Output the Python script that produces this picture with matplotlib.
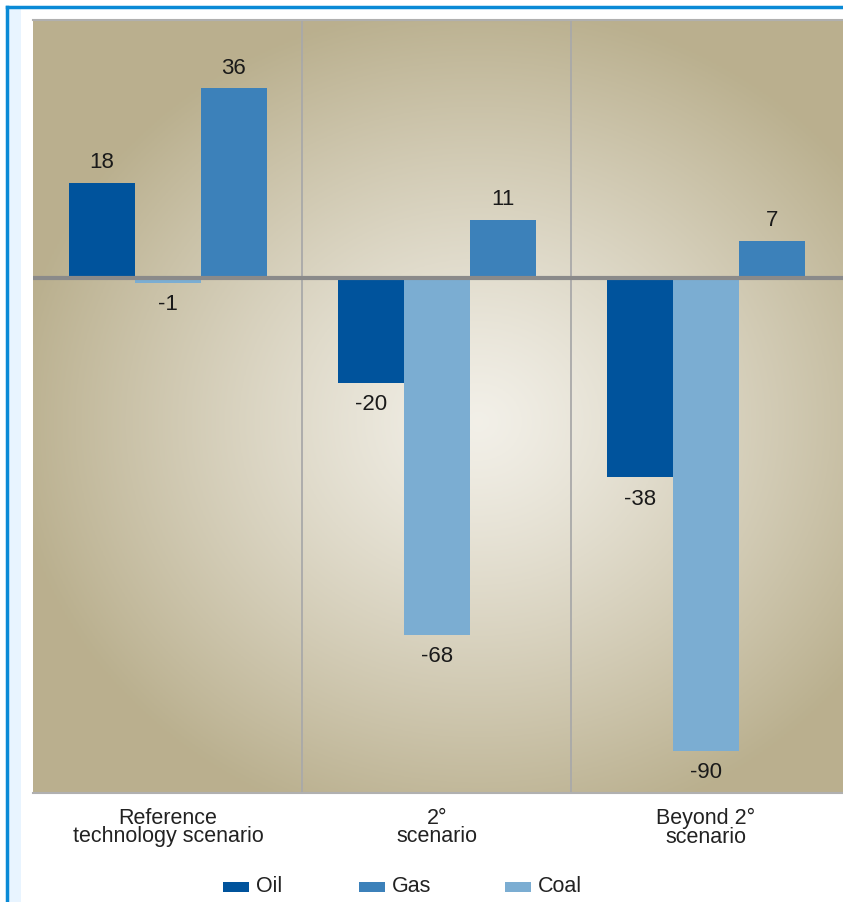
import numpy as np
import matplotlib
matplotlib.use('Agg')
from matplotlib import pyplot as plt
from matplotlib.patches import Rectangle

# data
scenarios = ['Reference\ntechnology scenario', '2°\nscenario', 'Beyond 2°\nscenario']
fuels = ['Oil', 'Gas', 'Coal']
oil = [18, -20, -38]
coal = [-1, -68, -90]
gas = [36, 11, 7]
colors = {'Oil': '#00539c', 'Gas': '#3c81ba', 'Coal': '#7badd2'}

plt.rcParams['font.family'] = ['Liberation Sans', 'DejaVu Sans']

fig = plt.figure(figsize=(8.43, 9.02), dpi=100)
W, H = 843.0, 902.0

# blue frame on the left and top
fig.patches.append(Rectangle((7 / W, 0), 14 / W, 1 - 7 / H, transform=fig.transFigure,
                             facecolor='#e8f4ff', edgecolor='none', zorder=0))
fig.add_artist(plt.Line2D([6.5 / W, 6.5 / W], [0, 1 - 6.5 / H], transform=fig.transFigure,
                          color='#0a8ad6', lw=2.5))
fig.add_artist(plt.Line2D([6.5 / W, 1], [1 - 6.5 / H, 1 - 6.5 / H], transform=fig.transFigure,
                          color='#0a8ad6', lw=2.5))

ax = fig.add_axes([33 / W, 109 / H, 810 / W, 773 / H])
x = np.arange(len(scenarios))
w = 0.245
xlim = (-0.502, 2.51)
ylim = (-98, 49)

# radial beige background
gx, gy = np.meshgrid(np.linspace(0, 1, 300), np.linspace(0, 1, 300))
r = np.sqrt(((gx - 0.55) / 0.8) ** 2 + ((gy - 0.52) / 0.75) ** 2)
r = np.clip(r / 0.72, 0, 1)
c0 = np.array([0.95, 0.94, 0.91])
c1 = np.array([0.73, 0.69, 0.56])
img = c0 + (c1 - c0) * r[..., None] ** 1.2
ax.imshow(img, extent=(xlim[0], xlim[1], ylim[0], ylim[1]), aspect='auto', zorder=0)

ax.bar(x - w, oil, w, color=colors['Oil'], zorder=3)
ax.bar(x, coal, w, color=colors['Coal'], zorder=3)
ax.bar(x + w, gas, w, color=colors['Gas'], zorder=3)

for xs, vals in [(x - w, oil), (x, coal), (x + w, gas)]:
    for xi, v in zip(xs, vals):
        off = 7 if v > 0 else -8
        ax.annotate(str(v), (xi, v), xytext=(0, off), textcoords='offset points',
                    ha='center', va='bottom' if v > 0 else 'top', fontsize=16, color='#1a1a1a')

ax.axhline(0, color='#8a8a8a', lw=3, zorder=4)
for d in [0.5, 1.5]:
    ax.axvline(d, color='#a9a9a9', lw=1.3, zorder=2)

ax.set_xlim(xlim)
ax.set_ylim(ylim)
ax.set_xticks(x)
ax.set_xticklabels(scenarios, fontsize=15.5, linespacing=0.82, color='#222222')
ax.tick_params(axis='x', length=0, pad=11)
ax.set_yticks([])
for s in ['left', 'right']:
    ax.spines[s].set_visible(False)
for s in ['top', 'bottom']:
    ax.spines[s].set_color('#b0b0b0')
    ax.spines[s].set_linewidth(1.5)

# legend
leg_x = [223, 359, 505]
for f, lx in zip(fuels, leg_x):
    fig.patches.append(Rectangle((lx / W, 1 - 892 / H), 26 / W, 10 / H, transform=fig.transFigure,
                                 facecolor=colors[f], edgecolor='none'))
    fig.text((lx + 33) / W, 1 - 887 / H, f, fontsize=15.5, va='center', ha='left', color='#222222')

plt.savefig('out.png', dpi=100)
